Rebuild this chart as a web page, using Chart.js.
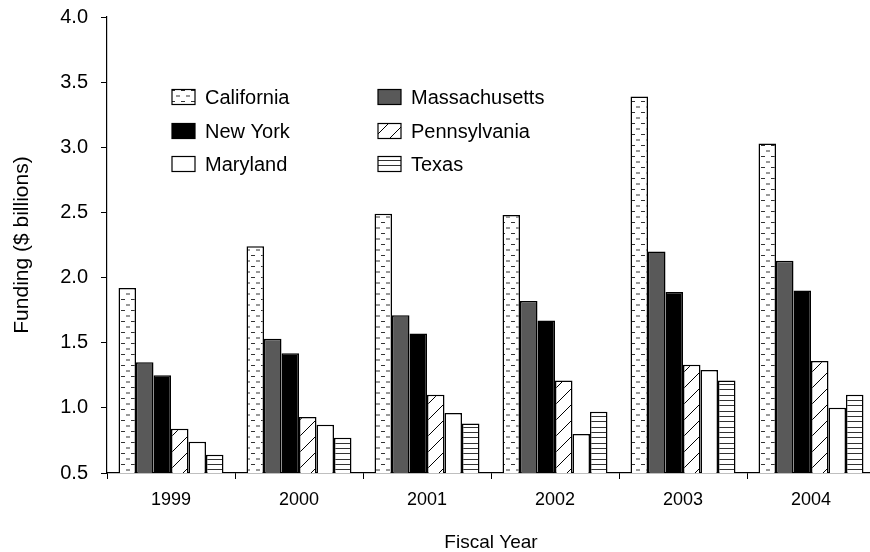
<!DOCTYPE html>
<html>
<head>
<meta charset="utf-8">
<script src="https://cdn.jsdelivr.net/npm/chart.js@4.4.1/dist/chart.umd.min.js"></script>
<style>
  html, body { margin: 0; padding: 0; background: #fff; overflow: hidden; }
  #chart { display: block; }
</style>
</head>
<body>
<canvas id="chart" width="875" height="552"></canvas>
<script>
// Chart data
const years = ['1999', '2000', '2001', '2002', '2003', '2004'];
const california = [1.92, 2.24, 2.49, 2.48, 3.39, 3.03];
const massachusetts = [1.35, 1.53, 1.71, 1.82, 2.20, 2.13];
const newYork = [1.25, 1.42, 1.57, 1.67, 1.89, 1.90];
const pennsylvania = [0.84, 0.93, 1.10, 1.21, 1.33, 1.36];
const maryland = [0.74, 0.87, 0.96, 0.80, 1.29, 1.00];
const texas = [0.64, 0.77, 0.88, 0.97, 1.21, 1.10];
const yTicks = [0.5, 1.0, 1.5, 2.0, 2.5, 3.0, 3.5, 4.0];

const FONT = '"Liberation Sans", Arial, Helvetica, sans-serif';

// Fill patterns
function makePattern(w, h, draw) {
    const c = document.createElement('canvas');
    c.width = w;
    c.height = h;
    const g = c.getContext('2d');
    g.fillStyle = '#fff';
    g.fillRect(0, 0, w, h);
    draw(g);
    return document.getElementById('chart').getContext('2d').createPattern(c, 'repeat');
}

const dashPattern = makePattern(10, 11, g => {
    g.strokeStyle = '#333';
    g.lineWidth = 1;
    g.beginPath();
    g.moveTo(1, 2.5); g.lineTo(5, 2.5);
    g.moveTo(6, 8); g.lineTo(10, 8);
    g.stroke();
});

const diagPattern = makePattern(16, 16, g => {
    g.strokeStyle = '#000';
    g.lineWidth = 1;
    g.beginPath();
    g.moveTo(-1, 17); g.lineTo(17, -1);
    g.stroke();
});

const hLinePattern = makePattern(4, 16, g => {
    g.fillStyle = '#333';
    g.fillRect(0, 0, 4, 1);
    g.fillRect(0, 5, 4, 1);
    g.fillRect(0, 11, 4, 1);
});

function series(label, data, fill) {
    return {
        label: label,
        data: data,
        backgroundColor: fill,
        borderColor: '#000',
        borderWidth: 1.5,
        borderSkipped: 'bottom',
        categoryPercentage: 0.82,
        barPercentage: 1.0,
    };
}

// Legend drawn inside the plot, two columns
const innerLegend = {
    id: 'innerLegend',
    afterDraw(chart) {
        const ctx = chart.ctx;
        const cols = [172, 378];
        const rows = [97, 131, 164];
        ctx.save();
        ctx.font = '20px ' + FONT;
        ctx.textBaseline = 'middle';
        chart.data.datasets.forEach((ds, i) => {
            const x = cols[i % 2];
            const y = rows[Math.floor(i / 2)];
            ctx.fillStyle = ds.backgroundColor;
            ctx.fillRect(x, y - 7.5, 23, 15);
            ctx.strokeStyle = '#000';
            ctx.lineWidth = 1.2;
            ctx.strokeRect(x, y - 7.5, 23, 15);
            ctx.fillStyle = '#000';
            ctx.fillText(ds.label, x + 33, y + 1);
        });
        ctx.restore();
    }
};

new Chart(document.getElementById('chart'), {
    type: 'bar',
    data: {
        labels: years,
        datasets: [
            series('California', california, dashPattern),
            series('Massachusetts', massachusetts, '#595959'),
            series('New York', newYork, '#000'),
            series('Pennsylvania', pennsylvania, diagPattern),
            series('Maryland', maryland, '#fff'),
            series('Texas', texas, hLinePattern),
        ],
    },
    options: {
        responsive: false,
        animation: false,
        devicePixelRatio: 1,
        layout: { padding: { top: 17, right: 0, bottom: 0, left: 0 } },
        plugins: {
            legend: { display: false },
            tooltip: { enabled: false },
        },
        scales: {
            x: {
                offset: true,
                grid: {
                    offset: true,
                    drawOnChartArea: false,
                    drawTicks: true,
                    tickLength: 6,
                    color: '#000',
                },
                border: { display: true, color: '#000', width: 1.2 },
                ticks: { color: '#000', padding: 10, font: { family: FONT, size: 18 } },
                title: {
                    display: true,
                    text: 'Fiscal Year',
                    color: '#000',
                    padding: 0,
                    font: { family: FONT, size: 19, lineHeight: 1 },
                },
                afterFit: scale => {
                    scale.height = 79;
                    scale.paddingLeft = 0;
                    scale.paddingRight = 0;
                },
            },
            y: {
                min: 0.5,
                max: 4.0,
                afterBuildTicks: scale => { scale.ticks = yTicks.map(v => ({ value: v })); },
                grid: {
                    drawOnChartArea: false,
                    drawTicks: true,
                    tickLength: 6,
                    color: '#000',
                },
                border: { display: true, color: '#000', width: 1.2 },
                ticks: {
                    color: '#000',
                    padding: 13,
                    font: { family: FONT, size: 20 },
                    callback: v => Number(v).toFixed(1),
                },
                title: {
                    display: true,
                    text: 'Funding ($ billions)',
                    color: '#000',
                    padding: { top: 10, bottom: 0 },
                    font: { family: FONT, size: 21, lineHeight: 1.2 },
                },
                afterFit: scale => {
                    scale.width = 107;
                    scale.paddingTop = 0;
                    scale.paddingBottom = 0;
                },
            },
        },
    },
    plugins: [innerLegend],
});
</script>
</body>
</html>
